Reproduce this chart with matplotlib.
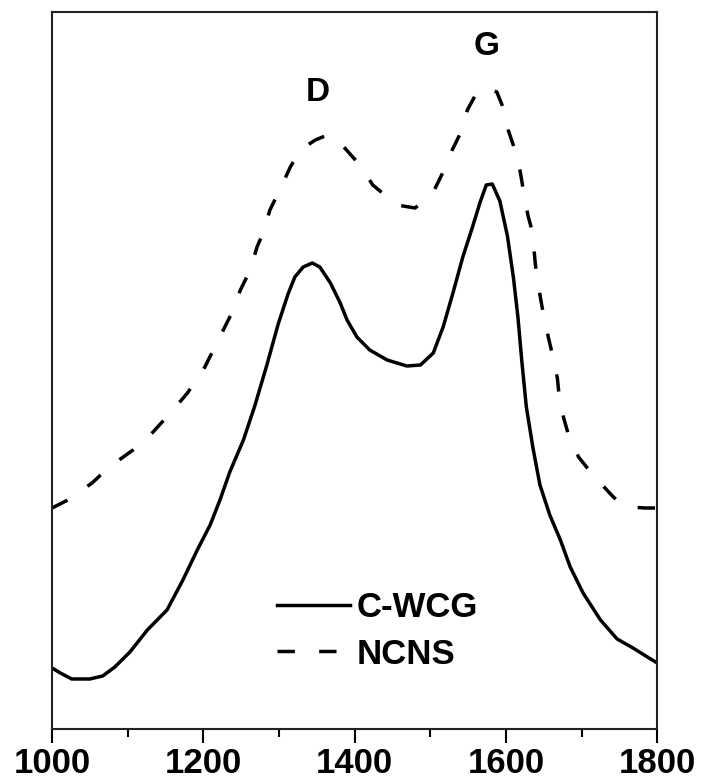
import matplotlib as mpl
import matplotlib.pyplot as plt
from matplotlib.ticker import MultipleLocator

mpl.rcParams['font.family'] = ['Liberation Sans', 'DejaVu Sans']
mpl.rcParams['font.weight'] = 'bold'

# Raman shift (cm-1) and intensity (a.u.) for the two samples
cwcg_shift = [1000, 1011, 1026, 1050, 1067, 1083, 1103, 1126, 1152, 1173,
              1192, 1209, 1222, 1235, 1253, 1268, 1284, 1299, 1312, 1321,
              1332, 1344, 1354, 1368, 1381, 1390, 1403, 1420, 1443, 1469,
              1487, 1504, 1517, 1530, 1543, 1555, 1566, 1574, 1582, 1592,
              1602, 1610, 1616, 1621, 1627, 1636, 1645, 1658, 1672, 1685,
              1702, 1725, 1747, 1768, 1787, 1800]
cwcg_int = [61, 56, 50, 50, 53, 62, 77, 99, 119, 149,
            179, 204, 229, 257, 289, 323, 364, 405, 435, 452,
            462, 466, 462, 446, 426, 409, 392, 379, 369, 363,
            364, 376, 402, 436, 472, 500, 527, 544, 545, 528,
            493, 451, 411, 368, 322, 280, 244, 214, 189, 162,
            136, 109, 90, 81, 72, 66]

ncns_shift = [1000, 1021, 1053, 1074, 1107, 1130, 1160, 1179, 1200, 1235,
              1249, 1262, 1271, 1279, 1288, 1301, 1315, 1328, 1348, 1364,
              1381, 1407, 1424, 1456, 1480, 1504, 1517, 1529, 1540, 1549,
              1562, 1575, 1588, 1596, 1603, 1612, 1619, 1623, 1629, 1635,
              1639, 1645, 1649, 1656, 1661, 1668, 1670, 1676, 1682, 1696,
              1715, 1742, 1755, 1764, 1784, 1800]
ncns_int = [221, 229, 246, 261, 279, 294, 319, 336, 359, 412,
            439, 459, 482, 496, 519, 539, 562, 579, 589, 594,
            586, 564, 544, 524, 521, 537, 557, 579, 596, 619,
            637, 641, 637, 622, 599, 579, 557, 539, 514, 497,
            464, 434, 417, 392, 376, 351, 336, 312, 296, 272,
            254, 232, 224, 222, 221, 221]

bands = {'D': (1352, 637), 'G': (1575, 683)}

fig = plt.figure(figsize=(7.02, 7.8), dpi=100)
ax = fig.add_axes([0.0741, 0.0654, 0.8621, 0.9192])

ax.plot(cwcg_shift, cwcg_int, color='black', linewidth=2.5, label='C-WCG')
ax.plot(ncns_shift, ncns_int, color='black', linewidth=2.5,
        dashes=(5, 7), label='NCNS')

for name, (bx, by) in bands.items():
    ax.text(bx, by, name, fontsize=24, fontweight='bold',
            ha='center', va='center')

ax.set_xlim(1000, 1800)
ax.set_ylim(0, 717)
ax.set_yticks([])
ax.xaxis.set_major_locator(MultipleLocator(200))
ax.xaxis.set_minor_locator(MultipleLocator(100))
ax.tick_params(axis='x', which='major', length=10, width=1.5,
               labelsize=25, pad=3)
ax.tick_params(axis='x', which='minor', length=6, width=1.5)
for lbl in ax.get_xticklabels():
    lbl.set_fontweight('bold')
for sp in ax.spines.values():
    sp.set_linewidth(1.5)
    sp.set_color('#222222')

leg = ax.legend(loc='upper left', bbox_to_anchor=(0.372, 0.192),
                frameon=False, fontsize=25, handlelength=2.1,
                handletextpad=0.2, labelspacing=0.38,
                borderpad=0, borderaxespad=0)
for t in leg.get_texts():
    t.set_fontweight('bold')

fig.savefig('out.png', dpi=100)
